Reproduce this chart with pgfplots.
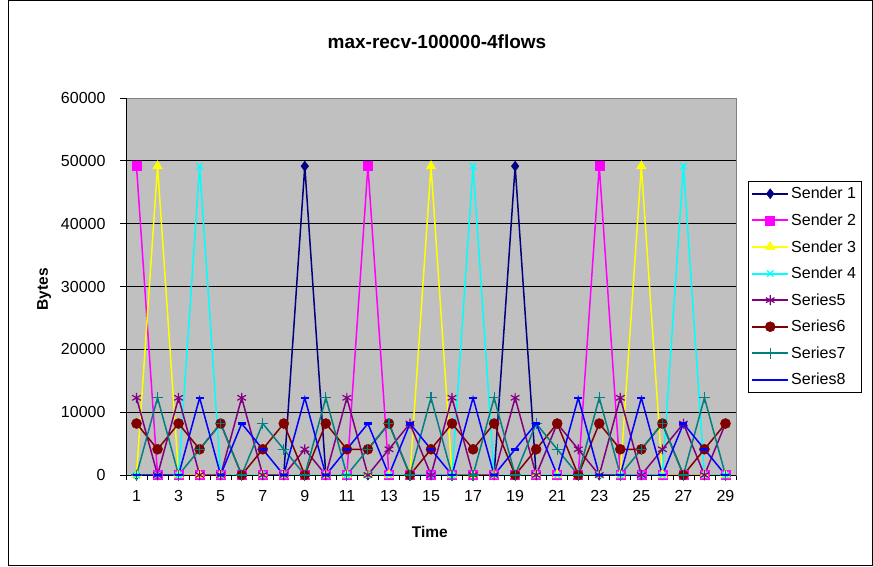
\documentclass[border=0pt]{standalone}
\usepackage{fontspec}
\setmainfont{Liberation Sans}
\usepackage{pgfplots}
\usepackage{pgfplotstable}
\pgfplotsset{compat=1.18}
\definecolor{cA}{HTML}{000080}
\definecolor{cB}{HTML}{FF00FF}
\definecolor{cC}{HTML}{FFFF00}
\definecolor{cD}{HTML}{00FFFF}
\definecolor{cE}{HTML}{800080}
\definecolor{cF}{HTML}{800000}
\definecolor{cG}{HTML}{008080}
\definecolor{cH}{HTML}{0000FF}
\definecolor{plotgray}{HTML}{C0C0C0}
\definecolor{bordergray}{HTML}{808080}

\pgfplotstableread{
t s1 s2 s3 s4 s5 s6 s7 s8
1 0 49152 0 0 12288 8192 0 0
2 0 0 49152 0 0 4096 12288 0
3 0 0 0 0 12288 8192 0 0
4 0 0 0 49152 0 4096 4096 12288
5 0 0 0 0 0 8192 8192 0
6 0 0 0 0 12288 0 0 8192
7 0 0 0 0 0 4096 8192 4096
8 0 0 0 0 0 8192 4096 0
9 49152 0 0 0 4096 0 0 12288
10 0 0 0 0 0 8192 12288 0
11 0 0 0 0 12288 4096 0 4096
12 0 49152 0 0 0 4096 4096 8192
13 0 0 0 0 4096 8192 8192 0
14 0 0 0 0 8192 0 0 8192
15 0 0 49152 0 0 4096 12288 4096
16 0 0 0 0 12288 8192 0 0
17 0 0 0 49152 0 4096 0 12288
18 0 0 0 0 0 8192 12288 0
19 49152 0 0 0 12288 0 0 4096
20 0 0 0 0 0 4096 8192 8192
21 0 0 0 0 8192 8192 4096 0
22 0 0 0 0 4096 0 0 12288
23 0 49152 0 0 0 8192 12288 0
24 0 0 0 0 12288 4096 0 0
25 0 0 49152 0 0 4096 4096 12288
26 0 0 0 0 4096 8192 8192 0
27 0 0 0 49152 8192 0 0 8192
28 0 0 0 0 0 4096 12288 4096
29 0 0 0 0 8192 8192 0 0
}\data

\begin{document}
\begin{tikzpicture}[x=1pt,y=1pt]
\useasboundingbox (0,0) rectangle (873,566);
\draw[black, line width=0.8pt] (8.5,0.5) rectangle (872.5,565.5);
\node[font=\bfseries\fontsize{19}{23}\selectfont] at (437,524) {max-recv-100000-4flows};
\begin{axis}[
  at={(126pt,91pt)}, anchor=south west,
  scale only axis, width=610pt, height=377pt,
  xmin=0.5, xmax=29.5, ymin=0, ymax=60000,
  xtick={1,3,...,29},
  minor xtick={0.5,1.5,...,29.5},
  ytick={0,10000,...,60000},
  scaled y ticks=false,
  /pgf/number format/assume math mode=true,
  yticklabel style={/pgf/number format/1000 sep={}, xshift=-11pt},
  tick pos=left,
  tick align=outside,
  major tick length=6pt,
  minor tick length=5pt,
  major x tick style={draw=none},
  minor x tick style={black, line width=0.8pt},
  major y tick style={black, line width=0.8pt},
  ticklabel style={font=\fontsize{16}{19}\selectfont},
  xticklabel style={yshift=-6pt},
  axis background/.style={fill=plotgray},
  axis line style={bordergray, line width=1pt},
  ymajorgrids,
  major grid style={black, line width=0.8pt},
  xlabel={Time}, ylabel={Bytes},
  label style={font=\bfseries\fontsize{15.5}{18}\selectfont},
  xlabel style={at={(axis description cs:0.498,-0.151)}, anchor=center},
  ylabel style={at={(axis description cs:-0.134,0.493)}, anchor=center},
  legend style={at={(1.0197,0.7798)}, anchor=north west, draw=black, fill=white,
    font=\fontsize{16}{19}\selectfont, row sep=13.5pt, inner xsep=3pt, inner ysep=6pt,
    nodes={inner ysep=0pt}},
  legend cell align=left,
  legend image code/.code={\draw[line width=2pt, mark repeat=2,mark phase=2] plot coordinates {(0pt,0pt) (18pt,0pt) (36pt,0pt)};},
  every axis plot/.append style={line width=1.5pt},
]
\addplot[cA, mark=diamond*, mark size=5pt, mark options={solid, line width=0.5pt, fill=cA}] table[x=t, y=s1] {\data};
\addlegendentry{Sender 1}
\addplot[cB, mark=square*, mark size=4.5pt, mark options={solid, line width=0.5pt, fill=cB}] table[x=t, y=s2] {\data};
\addlegendentry{Sender 2}
\addplot[cC, mark=triangle*, mark size=5.5pt, mark options={solid, line width=0.5pt, fill=cC}] table[x=t, y=s3] {\data};
\addlegendentry{Sender 3}
\addplot[cD, mark=x, mark size=4.5pt, mark options={solid, line width=1.3pt}] table[x=t, y=s4] {\data};
\addlegendentry{Sender 4}
\addplot[cE, mark=asterisk, mark size=5pt, mark options={solid, line width=1.2pt}] table[x=t, y=s5] {\data};
\addlegendentry{Series5}
\addplot[cF, mark=*, mark size=5pt, mark options={solid, line width=0.5pt, fill=cF}] table[x=t, y=s6] {\data};
\addlegendentry{Series6}
\addplot[cG, mark=+, mark size=5.5pt, mark options={solid, line width=1.2pt}] table[x=t, y=s7] {\data};
\addlegendentry{Series7}
\addplot[cH, mark=-, mark size=4pt, mark options={solid, line width=2.5pt}] table[x=t, y=s8] {\data};
\addlegendentry{Series8}
\draw[black, line width=1pt] (rel axis cs:0,1) -- (rel axis cs:0,0) -- (rel axis cs:1,0);
\end{axis}
\end{tikzpicture}
\end{document}
